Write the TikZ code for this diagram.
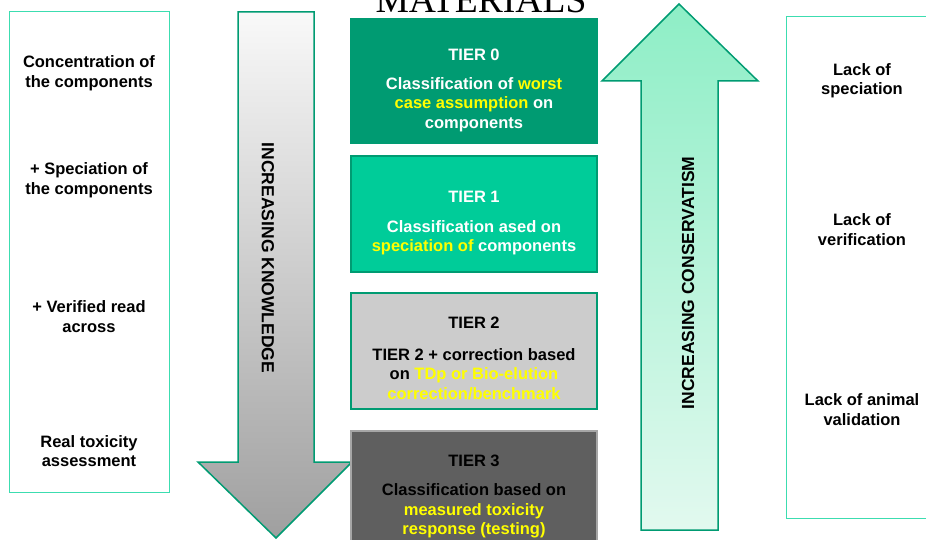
\documentclass[tikz,border=0pt]{standalone}
\usepackage{fontspec}
\setmainfont{Liberation Sans}
\newfontfamily\titlefont{Liberation Serif}

\definecolor{tealline}{HTML}{009B72}
\definecolor{tierzero}{HTML}{009B72}
\definecolor{tierone}{HTML}{00CC99}
\definecolor{tiertwo}{HTML}{CCCCCC}
\definecolor{tierthree}{HTML}{5F5F5F}
\definecolor{sideline}{HTML}{3CDDB0}
\definecolor{hilite}{HTML}{FFFF00}
\newcommand*{\hl}[1]{\textcolor{hilite}{#1}}

\begin{document}
\begin{tikzpicture}[x=1pt, y=-1pt,
  txt/.style={font=\bfseries\fontsize{16.5}{19.5}\selectfont, align=center, inner sep=0pt},
  sidebox/.style={draw=sideline, line width=1pt, inner sep=0pt},
  tierbox/.style={line width=2pt, minimum width=246pt, inner sep=0pt}]

\useasboundingbox (0,0) rectangle (926,540);

% side boxes
\node[sidebox, minimum width=160pt, minimum height=480pt] (leftbox) at (89,252) {};
\node[sidebox, minimum width=160pt, minimum height=501pt] (rightbox) at (866,267.5) {};

% big arrows
\shadedraw[top color=gray!5, bottom color=gray!75, draw=tealline, line width=1.5pt]
  (238,12) -- (314,12) -- (314,462) -- (352,462) -- (276,538) -- (198,462) -- (238,462) -- cycle;
\shadedraw[top color={rgb,255:red,142;green,238;blue,198}, bottom color={rgb,255:red,226;green,249;blue,239}, draw=tealline, line width=1.5pt]
  (641,530) -- (718,530) -- (718,81) -- (758,81) -- (679,4) -- (602,81) -- (641,81) -- cycle;
\node[txt, rotate=-90, font=\bfseries\fontsize{17.5}{20}\selectfont] (know) at (268,258) {INCREASING KNOWLEDGE};
\node[txt, rotate=90, font=\bfseries\fontsize{17.5}{20}\selectfont] (cons) at (688,283) {INCREASING CONSERVATISM};

% title (cut at the top)
\node[anchor=base, inner sep=0pt, font=\titlefont\fontsize{37.6}{40}\selectfont] (title) at (481,13) {MATERIALS};

% tiers
\node[tierbox, fill=tierzero, draw=tierzero, minimum height=124pt] (t0) at (474,81) {};
\node[tierbox, fill=tierone, draw=tealline, minimum height=116pt] (t1) at (474,214) {};
\node[tierbox, fill=tiertwo, draw=tealline, minimum height=116pt] (t2) at (474,351) {};
\node[tierbox, fill=tierthree, draw=gray!70, minimum height=120pt] (t3) at (474,491) {};

\node[txt, white] (t0a) at (474,55) {TIER 0};
\node[txt, white] (t0b) at (474,104.5) {Classification of \hl{worst}\\\hl{case assumption} on\\components};
\node[txt, white] (t1a) at (474,197) {TIER 1};
\node[txt, white] (t1b) at (474,237.5) {Classification ased on\\\hl{speciation of} components};
\node[txt] (t2a) at (474,323) {TIER 2};
\node[txt] (t2b) at (474,374) {TIER 2 + correction based\\on \hl{TDp or Bio-elution}\\\hl{correction/benchmark}};
\node[txt] (t3a) at (474,461) {TIER 3};
\node[txt] (t3b) at (474,511) {Classification based on\\\hl{measured toxicity}\\\hl{response (testing)}};

% left labels
\node[txt] (l1) at (89,73) {Concentration of\\the components};
\node[txt] (l2) at (89,180) {+ Speciation of\\the components};
\node[txt] (l3) at (89,316.5) {+ Verified read\\across};
\node[txt] (l4) at (89,451) {Real toxicity\\assessment};

% right labels
\node[txt] (r1) at (862,80.5) {Lack of\\speciation};
\node[txt] (r2) at (862,229.5) {Lack of\\verification};
\node[txt] (r3) at (862,409.5) {Lack of animal\\validation};

\end{tikzpicture}
\end{document}
